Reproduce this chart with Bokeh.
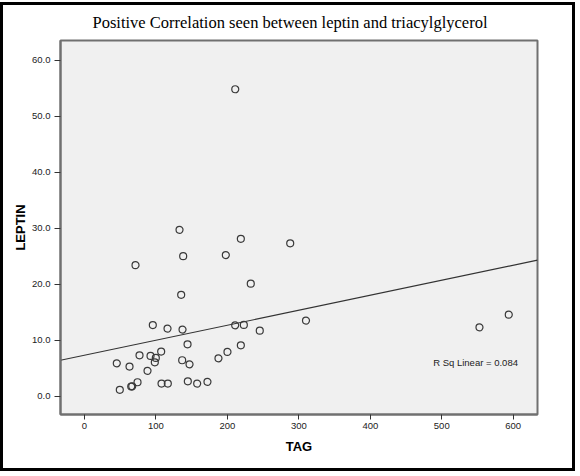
import numpy as np
from bokeh.plotting import figure
from bokeh.models import Range1d, Label, NumeralTickFormatter
from bokeh.embed import file_html
from bokeh.resources import INLINE

# ---- data ----
tag = [211, 133, 218.8, 287.9, 138.1, 197.8, 71.4, 232.7, 135.3,
       95.6, 116.2, 137.2, 210.9, 223, 245.3, 144.2, 218.8, 200.1, 187.5,
       107.3, 77, 92.4, 99.8, 98.4, 136.7, 147, 45.2, 63, 88.2,
       74.2, 65.4, 66.8, 49.4, 107.8, 116.6, 144.6, 157.7, 172.1,
       552.8, 593.8, 310]
leptin = [54.8, 29.7, 28.1, 27.3, 25.0, 25.2, 23.4, 20.1, 18.1,
          12.7, 12.07, 11.9, 12.66, 12.73, 11.7, 9.27, 9.09, 7.91, 6.77,
          7.97, 7.31, 7.2, 6.84, 6.06, 6.42, 5.70, 5.88, 5.29, 4.53,
          2.50, 1.73, 1.78, 1.14, 2.26, 2.26, 2.67, 2.26, 2.57,
          12.3, 14.56, 13.5]
x_ticks = [0, 100, 200, 300, 400, 500, 600]
y_ticks = [0, 10, 20, 30, 40, 50, 60]
title_text = "Positive Correlation seen between leptin and triacylglycerol"
x_label = "TAG"
y_label = "LEPTIN"
r2_text = "R Sq Linear = 0.084"

x_start, x_end = -33.6, 634
y_start, y_end = -3.26, 63.5

p = figure(width=575, height=469,
           x_range=Range1d(x_start, x_end), y_range=Range1d(y_start, y_end),
           output_backend="svg", toolbar_location=None,
           min_border_left=57, min_border_right=41,
           min_border_top=35, min_border_bottom=60,
           background_fill_color="#F0F0F0", border_fill_color="white")
p.styles = {"margin-top": "2px", "border": "3px solid black"}

p.title.text = title_text
p.title.text_font = "Liberation Serif"
p.title.text_font_size = "16.5px"
p.title.text_font_style = "normal"
p.title.text_color = "black"
p.title.align = "left"
p.title.vertical_align = "top"
p.title.offset = 32
p.title.standoff = 14

p.grid.visible = False
p.outline_line_color = "#707070"
p.outline_line_width = 2

for ax in (p.xaxis, p.yaxis):
    ax.axis_line_color = "#707070"
    ax.axis_line_width = 2
    ax.major_tick_line_color = "#333333"
    ax.major_tick_line_width = 1
    ax.major_tick_in = 0
    ax.minor_tick_line_color = None
    ax.major_label_text_font = "Liberation Sans"
    ax.major_label_text_font_size = "9.5px"
    ax.major_label_text_color = "#222222"
    ax.axis_label_text_font = "Liberation Sans"
    ax.axis_label_text_font_size = "13px"
    ax.axis_label_text_font_style = "bold"
    ax.axis_label_text_color = "black"

p.xaxis.ticker = x_ticks
p.yaxis.ticker = y_ticks
p.yaxis.formatter = NumeralTickFormatter(format="0.0")
p.xaxis.axis_label = x_label
p.yaxis.axis_label = y_label
p.xaxis.major_tick_out = 5
p.yaxis.major_tick_out = 6
p.xaxis.major_label_standoff = 3
p.yaxis.major_label_standoff = 4
p.xaxis.axis_label_standoff = 7
p.yaxis.axis_label_standoff = 1

# linear fit computed from the data
slope, intercept = np.polyfit(np.array(tag), np.array(leptin), 1)
xs = [x_start, x_end]
ys = [intercept + slope * v for v in xs]
p.line(xs, ys, line_color="#333333", line_width=1.2)

p.scatter(tag, leptin, marker="circle", size=7, fill_color=None,
          line_color="#3a3a3a", line_width=1.2)

p.add_layout(Label(x=488, y=6.0, text=r2_text, text_baseline="middle",
                   text_font="Liberation Sans", text_font_size="9.5px",
                   text_color="#222222"))

open("out.html", "w").write(file_html(p, INLINE))
